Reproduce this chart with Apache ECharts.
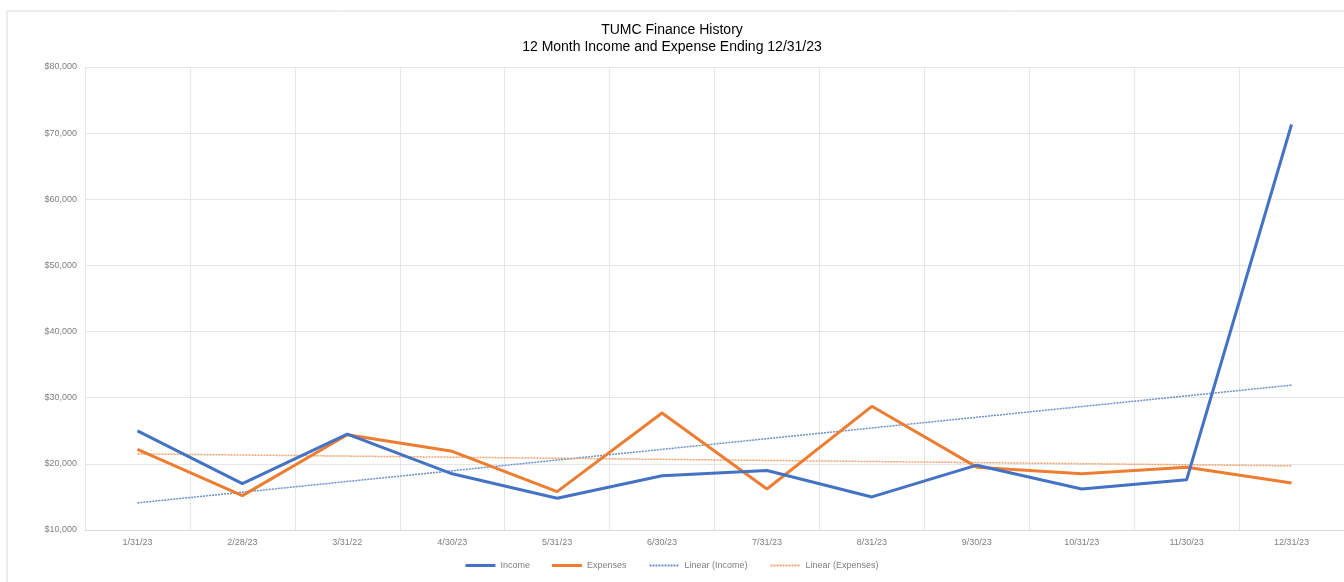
<!DOCTYPE html>
<html>
<head>
<meta charset="utf-8">
<script src="https://cdn.jsdelivr.net/npm/echarts@6/dist/echarts.min.js"></script>
<style>
  html, body { margin: 0; padding: 0; background: #fff; }
  #main { width: 1344px; height: 582px; }
</style>
</head>
<body>
<div id="main"></div>
<script>
// month-end dates on the x axis
var months = ['1/31/23', '2/28/23', '3/31/22', '4/30/23', '5/31/23', '6/30/23',
  '7/31/23', '8/31/23', '9/30/23', '10/31/23', '11/30/23', '12/31/23'];

var income = [25000, 17000, 24500, 18500, 14800, 18200, 19000, 15000, 19800, 16200, 17600, 71300];
var expenses = [22200, 15200, 24400, 21900, 15800, 27700, 16200, 28700, 19500, 18500, 19500, 17100];

// trend lines, only the two ends
var trendIncome = [14100, null, null, null, null, null, null, null, null, null, null, 31900];
var trendExpenses = [21500, null, null, null, null, null, null, null, null, null, null, 19700];

var chartDom = document.getElementById('main');
var myChart = echarts.init(chartDom);
var option;

var txt = { fontFamily: 'Liberation Sans, Arial, sans-serif' };

option = {
  animation: false,
  textStyle: txt,
  graphic: [{
    type: 'rect',
    shape: { x: 7, y: 11, width: 1400, height: 620 },
    style: { fill: 'none', stroke: '#d9d9d9', lineWidth: 1 },
    silent: true
  }],
  title: {
    text: 'TUMC Finance History\n12 Month Income and Expense Ending 12/31/23',
    left: 'center',
    top: 17,
    textStyle: { fontSize: 14, fontWeight: 'normal', color: '#000', lineHeight: 17, fontFamily: txt.fontFamily }
  },
  legend: {
    bottom: 7,
    left: 'center',
    itemWidth: 30,
    itemHeight: 8,
    itemGap: 22,
    textStyle: { fontSize: 9, color: '#7f7f7f' },
    data: [
      { name: 'Income', icon: 'path://M0,0H30V3H0Z' },
      { name: 'Expenses', icon: 'path://M0,0H30V3H0Z' },
      { name: 'Linear (Income)', itemStyle: { opacity: 0 } },
      { name: 'Linear (Expenses)', itemStyle: { opacity: 0 } }
    ]
  },
  grid: { left: 85, right: 0, top: 67, bottom: 52 },
  xAxis: {
    type: 'category',
    data: months,
    boundaryGap: true,
    axisLine: { lineStyle: { color: '#d9d9d9' } },
    axisTick: { show: false },
    axisLabel: { fontSize: 9, color: '#7f7f7f', margin: 8 },
    splitLine: { show: true, lineStyle: { color: '#e6e6e6' } }
  },
  yAxis: {
    type: 'value',
    min: 10000,
    max: 80000,
    interval: 10000,
    axisLine: { show: false },
    axisTick: { show: false },
    axisLabel: {
      fontSize: 9, color: '#7f7f7f', margin: 8,
      formatter: function (v) { return '$' + v.toLocaleString('en-US'); }
    },
    splitLine: { lineStyle: { color: '#e6e6e6' } }
  },
  series: [
    {
      name: 'Income', type: 'line', data: income,
      symbol: 'none', color: '#4472c4',
      lineStyle: { width: 3, color: '#4472c4' }, z: 4
    },
    {
      name: 'Expenses', type: 'line', data: expenses,
      symbol: 'none', color: '#ed7d31',
      lineStyle: { width: 3, color: '#ed7d31' }, z: 3
    },
    {
      name: 'Linear (Income)', type: 'line', data: trendIncome,
      connectNulls: true, symbol: 'none', color: '#6d8fcc',
      lineStyle: { width: 1.5, type: [2, 1], color: '#6d8fcc' }, z: 2
    },
    {
      name: 'Linear (Expenses)', type: 'line', data: trendExpenses,
      connectNulls: true, symbol: 'none', color: '#f0a46e',
      lineStyle: { width: 1.5, type: [2, 1], color: '#f0a46e' }, z: 2
    }
  ]
};

option && myChart.setOption(option);
</script>
</body>
</html>
